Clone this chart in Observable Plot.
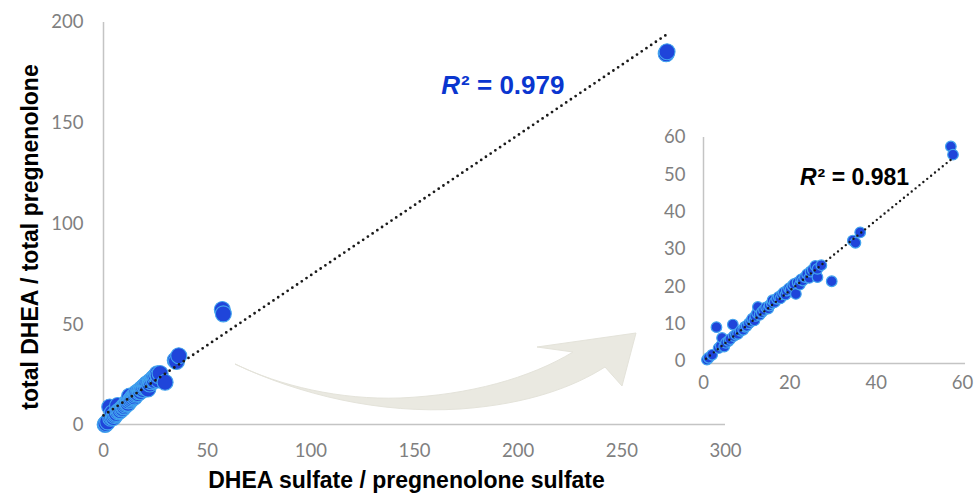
<!DOCTYPE html>
<html>
<head>
<meta charset="utf-8">
<script src="https://cdn.jsdelivr.net/npm/d3@7"></script>
<script src="https://cdn.jsdelivr.net/npm/@observablehq/plot@0.6"></script>
<style>
  html, body { margin: 0; padding: 0; background: #fff; overflow: hidden; }
  #wrap { position: relative; width: 974px; height: 494px; overflow: hidden; }
  #wrap > * { position: absolute; }
  #wrap svg { max-width: none !important; }
  #main { left: 0; top: 0; }
  #inset { left: 640px; top: 120px; width: 340px; height: 290px; }
  #arrow { left: 0; top: 0; pointer-events: none; }
</style>
</head>
<body>
<div id="wrap">
  <div id="main"></div>
  <div id="inset"></div>
</div>
<script>
// ---- data ----
const xVals = [0.8, 1.2, 2.0, 3.0, 3.5, 4.0, 4.3, 4.8, 5.2, 5.8, 6.2, 6.8, 7.0, 7.5, 8.0, 8.6, 9.2, 9.6, 10.0, 10.5,
  11.0, 11.3, 11.8, 12.0, 12.4, 12.6, 13.0, 13.5, 14.0, 14.5, 15.0, 15.3, 15.8, 16.0, 16.5, 17.0, 17.4, 17.8, 18.2, 18.6,
  19.0, 19.3, 19.8, 20.2, 20.6, 21.0, 21.4, 21.8, 22.3, 22.6, 23.0, 23.5, 24.0, 24.5, 24.8, 25.3, 25.9, 26.4, 26.4, 27.3,
  29.7, 34.6, 35.2, 36.3, 57.3, 57.8, 271.4, 271.8];
const yVals = [0.5, 1.0, 1.8, 9.2, 3.6, 4.2, 6.3, 4.0, 5.0, 5.5, 6.0, 9.9, 6.8, 7.2, 7.4, 8.2, 8.5, 9.3, 9.5, 10.2,
  10.8, 11.5, 11.0, 12.2, 13.0, 14.6, 12.5, 13.2, 13.8, 14.5, 14.2, 15.0, 15.6, 16.4, 15.9, 16.8, 17.3, 16.9, 18.0, 18.5,
  17.9, 19.0, 19.6, 19.3, 20.3, 20.8, 18.1, 21.2, 20.6, 22.0, 21.7, 22.6, 23.4, 22.4, 24.1, 24.6, 25.6, 22.6, 24.8, 25.8,
  21.5, 32.4, 31.8, 34.6, 57.6, 55.4, 184.5, 185.5];

const mainXTicks = [0, 50, 100, 150, 200, 250, 300];
const mainYTicks = [0, 50, 100, 150, 200];
const insetXTicks = [0, 20, 40, 60];
const insetYTicks = [0, 10, 20, 30, 40, 50, 60];

const mainFit = {intercept: 5, slope: 0.696, from: 0, to: 271.4};
const insetFit = {intercept: 0.2, slope: 0.94, from: 0.6, to: 57.8};
const mainR2 = "0.979";
const insetR2 = "0.981";
const xTitle = "DHEA sulfate / pregnenolone sulfate";
const yTitle = "total DHEA / total pregnenolone";

// ---- build ----
const data = xVals.map((x, i) => ({x, y: yVals[i]}));
const fitLine = f => [f.from, f.to].map(x => ({x, y: f.intercept + f.slope * x}));

const tickFont = "Lato, 'Open Sans', sans-serif";
const titleFont = "'Liberation Sans', Arial, sans-serif";
const axisColor = "#c4c4c4";
const tickColor = "#7f7f7f";
const dotFill = "#1f45da";
const dotStroke = "#43a4ee";

const main = Plot.plot({
  width: 974, height: 494,
  marginLeft: 103, marginRight: 249, marginTop: 22, marginBottom: 69,
  style: {fontFamily: tickFont, background: "transparent", overflow: "visible"},
  x: {domain: [0, 300]},
  y: {domain: [0, 200]},
  marks: [
    Plot.axisX({ticks: mainXTicks, tickSize: 0, tickPadding: 18, fontSize: 18.5, color: tickColor, label: null, fontFamily: tickFont}),
    Plot.axisY({ticks: mainYTicks, tickSize: 0, tickPadding: 20, fontSize: 18.5, color: tickColor, label: null, fontFamily: tickFont}),
    Plot.ruleY([0], {stroke: axisColor, strokeWidth: 1.5, dy: -1}),
    Plot.ruleX([0], {stroke: axisColor, strokeWidth: 1.5}),
    Plot.dot(data, {x: "x", y: "y", r: 8, fill: dotFill, stroke: dotStroke, strokeWidth: 1.1}),
    Plot.line(fitLine(mainFit), {x: "x", y: "y", stroke: "#1a1a1a", strokeWidth: 2.8, strokeDasharray: "0,5.7", strokeLinecap: "round"}),
    Plot.text([xTitle], {frameAnchor: "bottom", dx: -8, dy: 62, fontSize: 23, fontWeight: "bold", fill: "#000", fontFamily: titleFont}),
    Plot.text([yTitle], {frameAnchor: "left", textAnchor: "middle", rotate: -90, dx: -73, dy: 13, fontSize: 23, fontWeight: "bold", fill: "#000", fontFamily: titleFont}),
    Plot.text(["R"], {x: 172, y: 168.5, textAnchor: "end", fontSize: 26, fontWeight: "bold", fontStyle: "italic", fill: "#0a36cf", fontFamily: titleFont}),
    Plot.text(["² = " + mainR2], {x: 172, y: 168.5, textAnchor: "start", dx: 1, fontSize: 26, fontWeight: "bold", fill: "#0a36cf", fontFamily: titleFont})
  ]
});
document.getElementById("main").appendChild(main);

const insetData = data.filter(d => d.x <= 60);
const inset = Plot.plot({
  width: 340, height: 290,
  marginLeft: 63, marginRight: 18, marginTop: 17, marginBottom: 49,
  style: {fontFamily: tickFont, background: "transparent", overflow: "visible"},
  x: {domain: [0, 60]},
  y: {domain: [0, 60]},
  marks: [
    Plot.axisX({ticks: insetXTicks, tickSize: 0, tickPadding: 14, fontSize: 18.5, color: tickColor, label: null, fontFamily: tickFont}),
    Plot.axisY({ticks: insetYTicks, tickSize: 0, tickPadding: 18, fontSize: 18.5, color: tickColor, label: null, fontFamily: tickFont}),
    Plot.ruleY([0], {x1: 0, x2: 60.7, stroke: axisColor, strokeWidth: 1.5, dy: 2}),
    Plot.ruleX([0], {stroke: axisColor, strokeWidth: 1.5, y1: -0.5, y2: 60}),
    Plot.dot(insetData, {x: "x", y: "y", r: 5.3, fill: dotFill, stroke: dotStroke, strokeWidth: 1.2}),
    Plot.line(fitLine(insetFit), {x: "x", y: "y", stroke: "#1a1a1a", strokeWidth: 2.4, strokeDasharray: "0,5", strokeLinecap: "round"}),
    Plot.text(["R"], {x: 26.2, y: 49.3, textAnchor: "end", fontSize: 23, fontWeight: "bold", fontStyle: "italic", fill: "#000", fontFamily: titleFont}),
    Plot.text(["² = " + insetR2], {x: 26.2, y: 49.3, textAnchor: "start", dx: 1, fontSize: 23, fontWeight: "bold", fill: "#000", fontFamily: titleFont})
  ]
});
document.getElementById("inset").appendChild(inset);

// decorative curved arrow pointing from the main cluster to the inset
const ns = "http://www.w3.org/2000/svg";
const arr = document.createElementNS(ns, "svg");
arr.setAttribute("id", "arrow");
arr.setAttribute("width", 974);
arr.setAttribute("height", 494);
const p = document.createElementNS(ns, "path");
p.setAttribute("d", "M235,364 C300,395 380,414 460,409 C530,404 575,386 605,367 L622,386 L636,333 L537,347 L573,352 C530,378 470,395 400,398 C340,400 280,386 235,364 Z");
p.setAttribute("fill", "#eae9e1");
p.setAttribute("stroke", "#e4e3da");
p.setAttribute("stroke-width", "1");
arr.appendChild(p);
document.getElementById("wrap").appendChild(arr);
</script>
</body>
</html>
